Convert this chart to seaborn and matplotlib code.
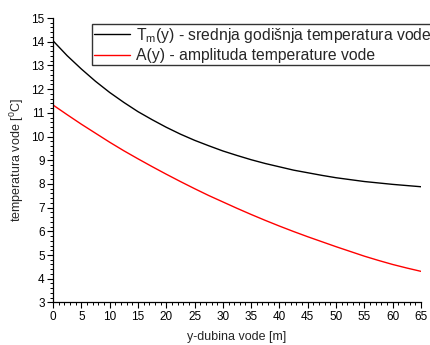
import numpy as np
import pandas as pd
import matplotlib
matplotlib.use("Agg")
import matplotlib.pyplot as plt
from matplotlib.ticker import MultipleLocator
import seaborn as sns

depth = [0, 2.5, 5, 7.5, 10, 12.5, 15, 17.5, 20, 22.5, 25, 27.5, 30, 32.5,
         35, 37.5, 40, 42.5, 45, 47.5, 50, 52.5, 55, 57.5, 60, 62.5, 65]
t_mean = [14.04, 13.41, 12.85, 12.33, 11.86, 11.44, 11.05, 10.71, 10.39, 10.10,
          9.84, 9.61, 9.39, 9.20, 9.02, 8.86, 8.72, 8.58, 8.47, 8.36, 8.26,
          8.18, 8.10, 8.04, 7.98, 7.93, 7.88]
amplitude = [11.33, 10.92, 10.52, 10.14, 9.76, 9.40, 9.06, 8.73, 8.41, 8.10,
             7.80, 7.51, 7.24, 6.97, 6.71, 6.46, 6.22, 5.99, 5.77, 5.56, 5.35,
             5.15, 4.95, 4.77, 4.60, 4.45, 4.31]
labels = ["T$_\\mathregular{m}$(y) - srednja godišnja temperatura vode",
          "A(y) - amplituda temperature vode"]
colors = ["black", "red"]

sns.set_style("ticks")
plt.rcParams['font.family'] = ['Liberation Sans', 'DejaVu Sans']
plt.rcParams['mathtext.fontset'] = 'custom'
plt.rcParams['mathtext.rm'] = 'Liberation Sans'

df = pd.DataFrame({
    "y": depth * 2,
    "T": t_mean + amplitude,
    "s": [labels[0]] * len(depth) + [labels[1]] * len(depth),
})

fig = plt.figure(figsize=(4.31, 3.45), dpi=100)
ax = fig.add_axes([53 / 431, 1 - 302.4 / 345, (421 - 53) / 431, (302.4 - 18) / 345])
sns.lineplot(data=df, x="y", y="T", hue="s", palette=colors, ax=ax, linewidth=1.0, legend=True)

ax.set_xlim(0, 65)
ax.set_ylim(3, 15)
ax.xaxis.set_major_locator(MultipleLocator(5))
ax.xaxis.set_minor_locator(MultipleLocator(1))
ax.yaxis.set_major_locator(MultipleLocator(1))
ax.yaxis.set_minor_locator(MultipleLocator(0.2))
ax.tick_params(which="major", direction="out", length=4, width=0.8, labelsize=8.5, pad=2, colors="black")
ax.tick_params(which="minor", direction="out", length=2.2, width=0.7, colors="black")
for s in ["top", "right"]:
    ax.spines[s].set_visible(False)
for s in ["left", "bottom"]:
    ax.spines[s].set_linewidth(0.9)
    ax.spines[s].set_color("black")
ax.set_xlabel("y-dubina vode [m]", fontsize=9, labelpad=6)
ax.set_ylabel("temperatura vode [$^\\mathregular{0}$C]", fontsize=9, labelpad=4)

h, l = ax.get_legend_handles_labels()
leg = ax.legend(h, l, loc="upper left", bbox_to_anchor=(92 / 431, 1 - 24.3 / 345),
                bbox_transform=fig.transFigure, frameon=True, fancybox=False,
                fontsize=11.3, borderpad=0.1, labelspacing=0.2, handlelength=2.35,
                handletextpad=0.35, borderaxespad=0)
leg.get_frame().set_edgecolor("black")
leg.get_frame().set_linewidth(1.0)

fig.savefig("out.png", dpi=100)
